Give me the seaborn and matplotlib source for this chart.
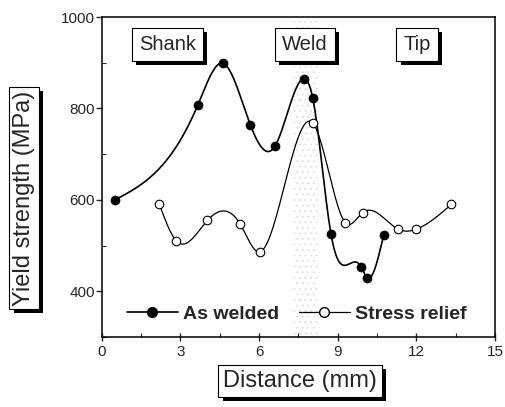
import numpy as np
import pandas as pd
import matplotlib
matplotlib.use("Agg")
import matplotlib.pyplot as plt
import matplotlib.patheffects as pe
from matplotlib.lines import Line2D
from matplotlib.ticker import MultipleLocator
import seaborn as sns

# ---- data ----
welded_x = [0.51, 3.66, 4.62, 5.67, 6.60, 7.70, 8.05, 8.74, 9.89, 10.11, 10.75]
welded_y = [600, 807, 899, 764, 717, 865, 822, 526, 454, 430, 523]
relief_x = [2.20, 2.85, 4.03, 5.28, 6.02, 8.05, 9.29, 9.95, 11.30, 12.00, 13.33]
relief_y = [590, 510, 555, 547, 486, 768, 550, 572, 536, 536, 590]
zone_labels = ["Shank", "Weld", "Tip"]
zone_x = [2.5, 7.74, 12.03]
x_ticks = [0, 3, 6, 9, 12, 15]
y_ticks = [400, 600, 800, 1000]


def natural_spline(x, y, n=400):
    x = np.asarray(x, float)
    y = np.asarray(y, float)
    m = len(x)
    h = np.diff(x)
    A = np.zeros((m, m))
    b = np.zeros(m)
    A[0, 0] = 1
    A[-1, -1] = 1
    for i in range(1, m - 1):
        A[i, i - 1] = h[i - 1]
        A[i, i] = 2 * (h[i - 1] + h[i])
        A[i, i + 1] = h[i]
        b[i] = 6 * ((y[i + 1] - y[i]) / h[i] - (y[i] - y[i - 1]) / h[i - 1])
    M = np.linalg.solve(A, b)
    xs = np.linspace(x[0], x[-1], n)
    idx = np.clip(np.searchsorted(x, xs) - 1, 0, m - 2)
    x0, x1 = x[idx], x[idx + 1]
    hh = x1 - x0
    t0 = x1 - xs
    t1 = xs - x0
    ys = (M[idx] * t0**3 + M[idx + 1] * t1**3) / (6 * hh) \
        + (y[idx] / hh - M[idx] * hh / 6) * t0 \
        + (y[idx + 1] / hh - M[idx + 1] * hh / 6) * t1
    return xs, ys


sns.set_style("ticks")
plt.rcParams["font.family"] = ["Liberation Sans", "DejaVu Sans"]
plt.rcParams["hatch.linewidth"] = 0.5

fig = plt.figure(figsize=(5.05, 4.07), dpi=100)
ax = fig.add_axes([0.2014, 0.172, 0.779, 0.786])

# weld zone stipple
ax.axvspan(7.3, 8.3, facecolor="none", edgecolor="#dadada", hatch="...", lw=0, zorder=0)

wx, wy = natural_spline(welded_x, welded_y)
rx, ry = natural_spline(relief_x, relief_y)
sns.lineplot(x=wx, y=wy, ax=ax, color="black", lw=1.2, sort=False, zorder=2)
sns.lineplot(x=rx, y=ry, ax=ax, color="black", lw=0.9, sort=False, zorder=2)
sns.scatterplot(x=relief_x, y=relief_y, ax=ax, s=38, facecolor="white",
                edgecolor="black", linewidth=0.8, zorder=3)
sns.scatterplot(x=welded_x, y=welded_y, ax=ax, s=42, color="black",
                edgecolor="black", linewidth=0.5, zorder=4)

ax.set_xlim(0, 15)
ax.set_ylim(300, 1000)
ax.set_xticks(x_ticks)
ax.set_yticks(y_ticks)
ax.xaxis.set_minor_locator(MultipleLocator(1.5))
ax.yaxis.set_minor_locator(MultipleLocator(100))
ax.tick_params(axis="x", which="major", direction="inout", length=6, width=1, labelsize=11, pad=3)
ax.tick_params(axis="x", which="minor", direction="in", length=3, width=0.8)
ax.tick_params(axis="y", which="major", direction="out", length=4, width=1, labelsize=11, pad=1)
ax.tick_params(axis="y", which="minor", direction="in", length=3, width=0.8)
for s in ax.spines.values():
    s.set_linewidth(1.1)
    s.set_color("black")

ax.set_xlabel("")
ax.set_ylabel("")

shadow = [pe.SimplePatchShadow(offset=(3, -3), shadow_rgbFace="black", alpha=1.0), pe.Normal()]

def boxed(x, y, s, size, transform, rotation=0, pad=0.35):
    t = ax.text(x, y, s, transform=transform, ha="center", va="center", fontsize=size,
                rotation=rotation,
                bbox=dict(boxstyle=f"square,pad={pad}", facecolor="white", edgecolor="black", lw=0.8),
                zorder=6)
    t.get_bbox_patch().set_path_effects(shadow)
    return t

for lab, xx in zip(zone_labels, zone_x):
    boxed(xx, 940, lab, 14.5, ax.transData)

ylab = fig.text(24 / 505, 1 - 198 / 407, "Yield strength (MPa)", rotation=90, ha="center",
                va="center", fontsize=17,
                bbox=dict(boxstyle="square,pad=0.15", facecolor="white", edgecolor="black", lw=0.8))
ylab.get_bbox_patch().set_path_effects(shadow)
xlab = fig.text(300 / 505, 1 - 381 / 407, "Distance (mm)", ha="center", va="center", fontsize=17,
                bbox=dict(boxstyle="square,pad=0.2", facecolor="white", edgecolor="black", lw=0.8))
xlab.get_bbox_patch().set_path_effects(shadow)

handles = [
    Line2D([], [], color="black", lw=1.2, marker="o", markersize=7, markerfacecolor="black"),
    Line2D([], [], color="black", lw=0.9, marker="o", markersize=7, markerfacecolor="white"),
]
ax.legend(handles, ["As welded", "Stress relief"], loc="lower left", bbox_to_anchor=(0.02, -0.01),
          ncol=2, frameon=False, prop={"weight": "bold", "size": 14}, handlelength=2.6,
          handletextpad=0.3, columnspacing=1.0)

fig.savefig("out.png", dpi=100)
